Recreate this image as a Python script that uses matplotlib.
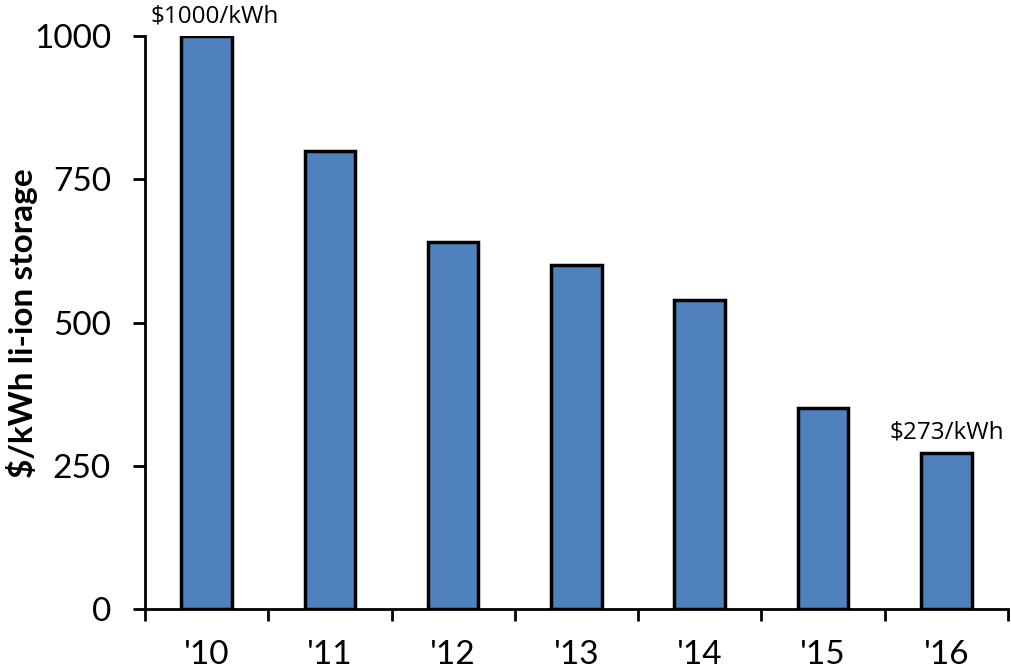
import matplotlib
matplotlib.use("Agg")
import matplotlib.pyplot as plt
import numpy as np

categories = ["'10", "'11", "'12", "'13", "'14", "'15", "'16"]
values = [1000, 800, 640, 600, 540, 350, 273]
yticks = [0, 250, 500, 750, 1000]
annotations = {0: "$1000/kWh", 6: "$273/kWh"}

plt.rcParams['font.family'] = ['Lato', 'DejaVu Sans']

fig = plt.figure(figsize=(10.11, 6.68), dpi=100)
ax = fig.add_axes([0.1434, 0.0883, 0.8536, 0.8577])

x = np.arange(len(categories))
ax.bar(x, values, width=0.41, color='#4F81BD', edgecolor='black', linewidth=2.5, zorder=3)

ax.set_xlim(-0.5, len(categories) - 0.5)
ax.set_ylim(0, 1000)
ax.set_yticks(yticks)
ax.set_yticklabels([str(v) for v in yticks], fontsize=24)
ax.set_xticks(x)
ax.set_xticklabels(categories, fontsize=24)
ax.set_xticks(np.arange(len(categories) + 1) - 0.5, minor=True)
ax.tick_params(axis='x', which='major', length=0, pad=22)
ax.tick_params(axis='x', which='minor', length=8.5, width=2, direction='out')
ax.tick_params(axis='y', which='major', length=8.5, width=2, direction='out', pad=16)

for s in ['top', 'right']:
    ax.spines[s].set_visible(False)
for s in ['left', 'bottom']:
    ax.spines[s].set_linewidth(2)

fig.text(22 / 1011, 1 - 323 / 668, '$/kWh li-ion storage', rotation=90,
         fontsize=24, fontweight='bold', ha='center', va='center')

for i, txt in annotations.items():
    ax.annotate(txt, xy=(x[i], values[i]), xytext=(6 if i == 0 else 0, 10),
                textcoords='offset points', ha='center', va='baseline',
                fontsize=17.5, family=['Open Sans', 'DejaVu Sans'],
                annotation_clip=False)

fig.savefig('out.png', dpi=100)
